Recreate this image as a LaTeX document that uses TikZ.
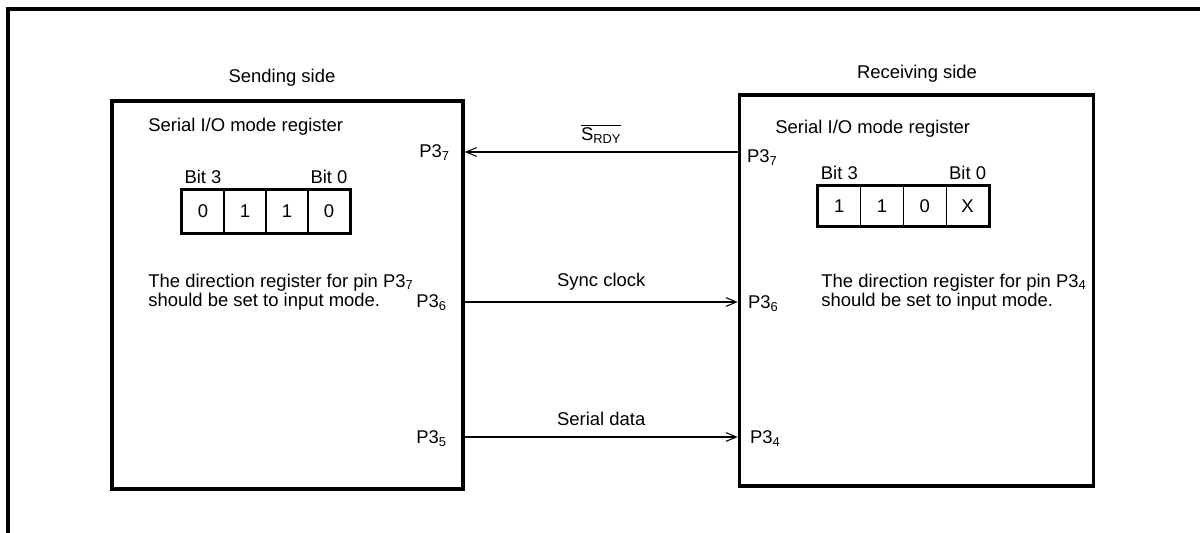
\documentclass[tikz,border=0pt]{standalone}
\usepackage{fontspec}
\setmainfont{Liberation Sans}
\usepackage{tikz}
\usetikzlibrary{arrows.meta}

\begin{document}
\begin{tikzpicture}[x=0.02cm,y=-0.02cm,font=\fontsize{10.5}{11}\selectfont,
        unit/.style={draw,line width=2pt,inner sep=0pt},
        bitcell/.style={draw,line width=0.6pt,inner sep=0pt},
        pin/.style={inner sep=1pt},
        sig/.style={line width=0.6pt,-{Straight Barb[length=6pt,width=5pt]}}]
        \useasboundingbox (0,0) rectangle (1200,533);
        \draw[line width=2pt] (8,533)--(8,9)--(1200,9);

        \node[unit,minimum width=7.02cm,minimum height=7.76cm] (send) at (287.5,295){};
        \node[unit,minimum width=7.08cm,minimum height=7.82cm] (recv) at (916.5,290.5){};
        \node (sendtitle) at (282,78){Sending side};
        \node (recvtitle) at (917,74){Receiving side};

        \node[anchor=west,inner sep=0pt] (smode) at (148,127){Serial I/O mode register};
        \node[anchor=west,inner sep=0pt] (rmode) at (775,129){Serial I/O mode register};

        \foreach \v [count=\i] in {0,1,1,0}
            \node[bitcell,minimum width=0.84cm,minimum height=0.86cm] (sb\i) at ({161+42*\i},211.5){\v};
        \draw[line width=1.8pt] (sb1.north west) rectangle (sb4.south east);
        \node[anchor=south] (sbit3) at (sb1.north){Bit 3};
        \node[anchor=south] (sbit0) at (sb4.north){Bit 0};

        \foreach \v [count=\i] in {1,1,0,X}
            \node[bitcell,minimum width=0.855cm,minimum height=0.8cm] (rb\i) at ({796.6+42.75*\i},206){\v};
        \draw[line width=1.8pt] (rb1.north west) rectangle (rb4.south east);
        \node[anchor=south] (rbit3) at (rb1.north){Bit 3};
        \node[anchor=south] (rbit0) at (rb4.north){Bit 0};

        \node[anchor=west,align=left,inner sep=0pt] (sdir) at (148,292){The direction register for pin P3\textsubscript{7}\\should be set to input mode.};
        \node[anchor=west,align=left,inner sep=0pt] (rdir) at (821,292){The direction register for pin P3\textsubscript{4}\\should be set to input mode.};

        \node[pin,anchor=east] (sp7) at (452,153){P3\textsubscript{7}};
        \node[pin,anchor=east] (sp6) at (449,303){P3\textsubscript{6}};
        \node[pin,anchor=east] (sp5) at (449,439){P3\textsubscript{5}};
        \node[pin,anchor=west] (rp7) at (745,158){P3\textsubscript{7}};
        \node[pin,anchor=west] (rp6) at (746,304){P3\textsubscript{6}};
        \node[pin,anchor=west] (rp4) at (748,439){P3\textsubscript{4}};

        \draw[sig] (recv.west |- 0,152)--node[above=1pt]{\(\overline{\mbox{S\textsubscript{RDY}}}\)}(send.east |- 0,152);
        \draw[sig] (send.east |- 0,302)--node[above=3pt]{Sync clock}(recv.west |- 0,302);
        \draw[sig] (send.east |- 0,437)--node[above=3pt]{Serial data}(recv.west |- 0,437);
    \end{tikzpicture}
\end{document}
